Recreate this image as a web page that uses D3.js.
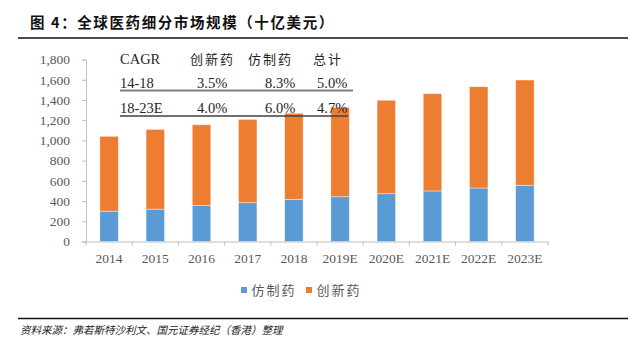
<!DOCTYPE html>
<html>
<head>
<meta charset="utf-8">
<script src="https://cdn.jsdelivr.net/npm/d3@7"></script>
<style>
	body { margin: 0; background: #fff; }
	svg { display: block; }
</style>
</head>
<body>
<svg></svg>
<script>
const years = ['2014', '2015', '2016', '2017', '2018', '2019E', '2020E', '2021E', '2022E', '2023E'];
const generic = [300, 320, 355, 384, 417, 443, 473, 500, 529, 556];
const totals = [1040, 1108, 1155, 1208, 1268, 1327, 1397, 1462, 1531, 1597];
const innovative = totals.map((t, i) => t - generic[i]);
const yTicks = [0, 200, 400, 600, 800, 1000, 1200, 1400, 1600, 1800];

const cagrHeader = ['CAGR', '创新药', '仿制药', '总计'];
const cagrRows = [
	['14-18', '3.5%', '8.3%', '5.0%'],
	['18-23E', '4.0%', '6.0%', '4.7%']
];

const svg = d3.select('svg')
	.attr('width', 632)
	.attr('height', 350);

const width = +svg.attr('width'),
	height = +svg.attr('height');

const margin = { top: 59.5, right: 84, bottom: 108.5, left: 86 },
	innerWidth = width - margin.left - margin.right,
	innerHeight = height - margin.top - margin.bottom;

const serif = '"Liberation Serif", "Times New Roman", serif',
	cjk = '"Noto Sans CJK SC", sans-serif',
	blue = '#5b9bd5',
	orange = '#ed7d31',
	axisColor = '#bfbfbf',
	labelColor = '#595959';

// title and rules
svg.append('text')
	.attr('x', 30)
	.attr('y', 28)
	.attr('font-family', cjk)
	.attr('font-weight', 'bold')
	.attr('font-size', 14.5)
	.attr('letter-spacing', 1.6)
	.attr('fill', '#111')
	.text('图 4：全球医药细分市场规模（十亿美元）');

svg.append('line')
	.attr('x1', 18).attr('x2', 628)
	.attr('y1', 38).attr('y2', 38)
	.attr('stroke', '#111').attr('stroke-width', 1.5);

svg.append('line')
	.attr('x1', 18).attr('x2', 628)
	.attr('y1', 318.5).attr('y2', 318.5)
	.attr('stroke', '#111').attr('stroke-width', 1.5);

svg.append('text')
	.attr('x', 20)
	.attr('y', 334)
	.attr('font-family', cjk)
	.attr('font-size', 10.5)
	.attr('font-style', 'italic')
	.attr('fill', '#222')
	.text('资料来源：弗若斯特沙利文、国元证券经纪（香港）整理');

const g = svg.append('g')
	.attr('transform', `translate(${margin.left}, ${margin.top})`);

const xScale = d3.scaleBand()
	.domain(years)
	.range([0, innerWidth])
	.paddingInner(0.6)
	.paddingOuter(0.3);

const yScale = d3.scaleLinear()
	.domain([0, 1800])
	.range([innerHeight, 0]);

// y axis
const yAxisG = g.append('g')
	.call(d3.axisLeft(yScale)
		.tickValues(yTicks)
		.tickSize(4)
		.tickPadding(12)
		.tickFormat(d3.format(',')));
yAxisG.select('.domain').attr('stroke', axisColor);
yAxisG.selectAll('.tick line').attr('stroke', axisColor);
yAxisG.selectAll('text')
	.attr('font-family', serif)
	.attr('font-size', 13.5)
	.attr('fill', labelColor);

// bars
const stacked = years.map((y, i) => ({ year: y, generic: generic[i], innovative: innovative[i] }));
const series = d3.stack().keys(['generic', 'innovative'])(stacked);
const colors = { generic: blue, innovative: orange };

g.selectAll('.series')
	.data(series)
	.join('g')
	.attr('fill', d => colors[d.key])
	.selectAll('rect')
	.data(d => d)
	.join('rect')
	.attr('x', d => xScale(d.data.year))
	.attr('y', d => yScale(d[1]))
	.attr('width', xScale.bandwidth())
	.attr('height', d => yScale(d[0]) - yScale(d[1]))
	.attr('stroke', '#fff')
	.attr('stroke-opacity', 0.5)
	.attr('stroke-width', 0.8);

// x axis
const xAxisG = g.append('g')
	.attr('transform', `translate(0, ${innerHeight})`)
	.call(d3.axisBottom(xScale).tickSize(0).tickPadding(12));
xAxisG.select('.domain').attr('stroke', axisColor).attr('stroke-width', 1.2);
xAxisG.selectAll('text')
	.attr('font-family', serif)
	.attr('font-size', 13.5)
	.attr('fill', labelColor);
xAxisG.selectAll('.sep')
	.data(d3.range(years.length + 1))
	.join('line')
	.attr('class', 'sep')
	.attr('x1', i => i * xScale.step())
	.attr('x2', i => i * xScale.step())
	.attr('y1', 0).attr('y2', 4)
	.attr('stroke', axisColor);

// CAGR table
const table = svg.append('g');
const colX = [120, 190, 248, 313];
const valX = [120, 197, 265, 317];
cagrHeader.forEach((h, i) => {
	table.append('text')
		.attr('x', colX[i])
		.attr('y', 64)
		.attr('font-family', i === 0 ? serif : cjk)
		.attr('font-size', i === 0 ? 14.5 : 13)
		.attr('letter-spacing', i === 0 ? 0 : 2)
		.attr('fill', '#262626')
		.text(h);
});
const rowY = [88, 113],
	lineY = [90.5, 116],
	lineEnd = [353, 348],
	lineColor = ['#808080', '#404040'];
cagrRows.forEach((row, r) => {
	row.forEach((v, i) => {
		table.append('text')
			.attr('x', valX[i])
			.attr('y', rowY[r])
			.attr('font-family', serif)
			.attr('font-size', 14.5)
			.attr('fill', '#262626')
			.text(v);
	});
	table.append('line')
		.attr('x1', 120).attr('x2', lineEnd[r])
		.attr('y1', lineY[r]).attr('y2', lineY[r])
		.attr('stroke', lineColor[r])
		.attr('stroke-width', r === 0 ? 2 : 1.3);
});

// legend
const legendItems = [
	{ label: '仿制药', color: blue, x: 241 },
	{ label: '创新药', color: orange, x: 306 }
];
const legend = svg.selectAll('.legend')
	.data(legendItems)
	.join('g')
	.attr('class', 'legend')
	.attr('transform', d => `translate(${d.x}, 290)`);
legend.append('rect')
	.attr('x', 0).attr('y', -3)
	.attr('width', 6).attr('height', 6)
	.attr('fill', d => d.color);
legend.append('text')
	.attr('x', 10.5)
	.attr('y', 5)
	.attr('font-family', cjk)
	.attr('font-size', 13)
	.attr('letter-spacing', 2)
	.attr('fill', labelColor)
	.text(d => d.label);
</script>
</body>
</html>
